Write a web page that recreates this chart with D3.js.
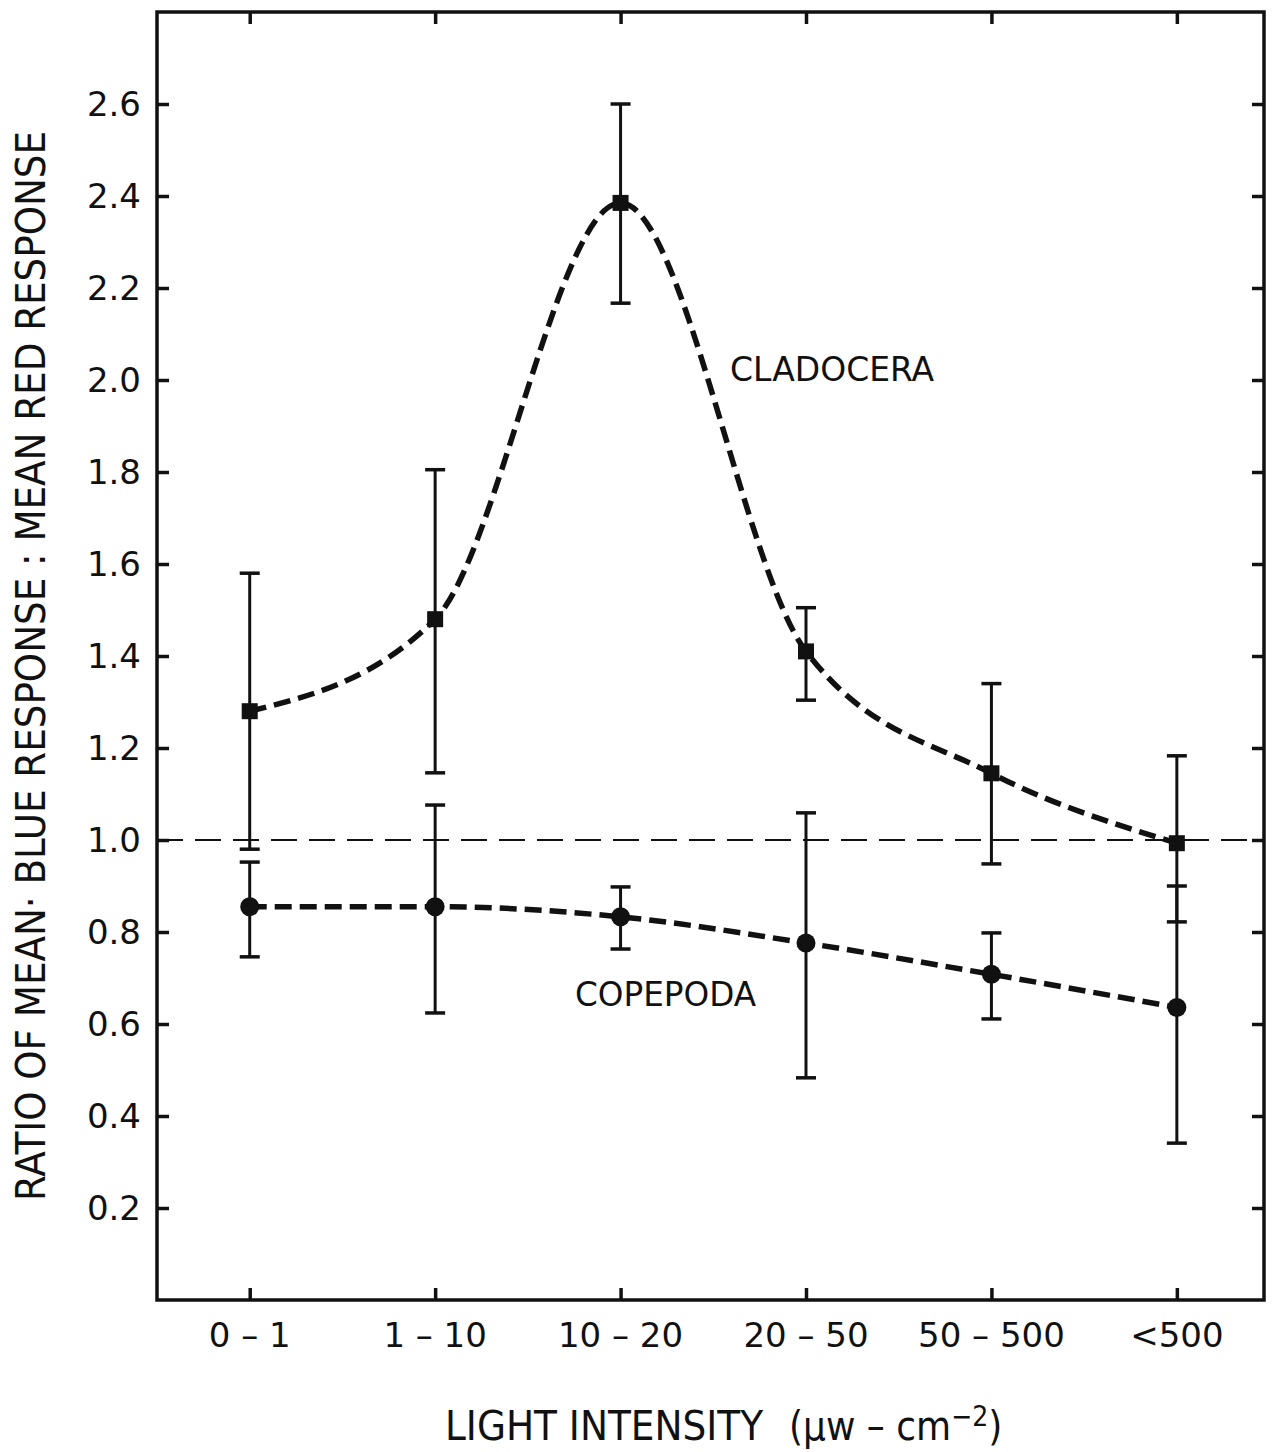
<!DOCTYPE html>
<html><head><meta charset="utf-8">
<script src="https://cdn.jsdelivr.net/npm/d3@7"></script>
<style>body{margin:0;background:#fff}svg{display:block}text{font-family:"Liberation Sans Narrow","DejaVu Sans Condensed","Liberation Sans",sans-serif;fill:#111}</style>
</head><body>
<svg id="c" width="1272" height="1452"></svg>
<script>
const categories = ["0 – 1", "1 – 10", "10 – 20", "20 – 50", "50 – 500", "<500"];
const cladoceraMean = [1.28, 1.48, 2.385, 1.41, 1.145, 0.993];
const cladoceraHigh = [1.58, 1.805, 2.60, 1.505, 1.34, 1.183];
const cladoceraLow  = [0.98, 1.146, 2.167, 1.304, 0.948, 0.822];
const copepodaMean  = [0.855, 0.855, 0.833, 0.776, 0.708, 0.636];
const copepodaHigh  = [0.952, 1.076, 0.898, 1.059, 0.798, 0.90];
const copepodaLow   = [0.746, 0.624, 0.763, 0.483, 0.611, 0.341];
const yTicks = [0.2, 0.4, 0.6, 0.8, 1.0, 1.2, 1.4, 1.6, 1.8, 2.0, 2.2, 2.4, 2.6];

const svg = d3.select("#c");
const L = 157, R = 1264, T = 12, B = 1300;
const x = d3.scaleLinear().domain([-0.5, 5.47]).range([L, R]);
const y = d3.scaleLinear().domain([0, 2.8]).range([B, T]);
const idx = categories.map((d, i) => i);

// frame
svg.append("rect").attr("x", L).attr("y", T).attr("width", R - L).attr("height", B - T)
  .attr("fill", "none").attr("stroke", "#111").attr("stroke-width", 3.5);

// axes with inward ticks
const styleAxis = g => { g.select(".domain").remove(); g.selectAll("line").attr("stroke", "#111").attr("stroke-width", 3.5); };
svg.append("g").attr("transform", `translate(${L},0)`)
  .call(d3.axisRight(y).tickValues(yTicks).tickSize(12).tickFormat("")).call(styleAxis);
svg.append("g").attr("transform", `translate(${R},0)`)
  .call(d3.axisLeft(y).tickValues(yTicks).tickSize(12).tickFormat("")).call(styleAxis);
svg.append("g").attr("transform", `translate(0,${B})`)
  .call(d3.axisTop(x).tickValues(idx).tickSize(12).tickFormat("")).call(styleAxis);
svg.append("g").attr("transform", `translate(0,${T})`)
  .call(d3.axisBottom(x).tickValues(idx).tickSize(12).tickFormat("")).call(styleAxis);

// tick labels
svg.append("g").selectAll("text").data(yTicks).join("text")
  .attr("x", 141).attr("y", d => y(d) + 12).attr("text-anchor", "end")
  .style("font-family", "'DejaVu Sans','Liberation Sans',sans-serif")
  .attr("font-size", 34).text(d => d.toFixed(1));
svg.append("g").selectAll("text").data(categories).join("text")
  .attr("x", (d, i) => x(i)).attr("y", 1347).attr("text-anchor", "middle")
  .style("font-family", "'DejaVu Sans','Liberation Sans',sans-serif")
  .attr("font-size", 34).text(d => d);

// reference line at 1.0
svg.append("line").attr("x1", L).attr("x2", R).attr("y1", y(1)).attr("y2", y(1))
  .attr("stroke", "#111").attr("stroke-width", 2.2).attr("stroke-dasharray", "26,12");

// error bars
function errorBars(hi, lo) {
  const g = svg.append("g").attr("stroke", "#111");
  g.selectAll("line.v").data(idx).join("line").attr("class", "v")
    .attr("x1", i => x(i)).attr("x2", i => x(i)).attr("y1", i => y(hi[i])).attr("y2", i => y(lo[i]))
    .attr("stroke-width", 3);
  g.selectAll("line.h").data(idx).join("line").attr("class", "h")
    .attr("x1", i => x(i) - 10).attr("x2", i => x(i) + 10).attr("y1", i => y(hi[i])).attr("y2", i => y(hi[i]))
    .attr("stroke-width", 3.5);
  g.selectAll("line.l").data(idx).join("line").attr("class", "l")
    .attr("x1", i => x(i) - 10).attr("x2", i => x(i) + 10).attr("y1", i => y(lo[i])).attr("y2", i => y(lo[i]))
    .attr("stroke-width", 3.5);
}
errorBars(cladoceraHigh, cladoceraLow);
errorBars(copepodaHigh, copepodaLow);

// curves
const cladLine = d3.line().x(i => x(i)).y(i => y(cladoceraMean[i])).curve(d3.curveMonotoneX);
svg.append("path").attr("d", cladLine(idx)).attr("fill", "none").attr("stroke", "#111")
  .attr("stroke-width", 5.5).attr("stroke-dasharray", "17,8");
const copLine = d3.line().x(i => x(i)).y(i => y(copepodaMean[i])).curve(d3.curveMonotoneX);
svg.append("path").attr("d", copLine(idx)).attr("fill", "none").attr("stroke", "#111")
  .attr("stroke-width", 5.5).attr("stroke-dasharray", "17,8");

// markers
svg.append("g").selectAll("rect").data(idx).join("rect")
  .attr("x", i => x(i) - 8).attr("y", i => y(cladoceraMean[i]) - 8)
  .attr("width", 16).attr("height", 16).attr("fill", "#111");
svg.append("g").selectAll("circle").data(idx).join("circle")
  .attr("cx", i => x(i)).attr("cy", i => y(copepodaMean[i])).attr("r", 9.5).attr("fill", "#111");

// series labels
svg.append("text").attr("x", 730).attr("y", 381).attr("font-size", 34)
  .attr("textLength", 204).attr("lengthAdjust", "spacingAndGlyphs").text("CLADOCERA");
svg.append("text").attr("x", 575).attr("y", 1006).attr("font-size", 34)
  .attr("textLength", 181).attr("lengthAdjust", "spacingAndGlyphs").text("COPEPODA");

// axis titles
const xt = svg.append("text").attr("x", 445).attr("y", 1440).attr("font-size", 40);
xt.append("tspan").attr("textLength", 318).attr("lengthAdjust", "spacingAndGlyphs").text("LIGHT INTENSITY");
xt.append("tspan").attr("dx", 26).text("(μw – cm");
xt.append("tspan").attr("dy", -14).attr("font-size", 28).text("−2");
xt.append("tspan").attr("dy", 14).text(")");

svg.append("text").attr("transform", "translate(45,666) rotate(-90)").attr("text-anchor", "middle")
  .attr("font-size", 40).attr("textLength", 1070).attr("lengthAdjust", "spacingAndGlyphs")
  .text("RATIO OF MEAN· BLUE RESPONSE : MEAN RED RESPONSE");
</script>
</body></html>
